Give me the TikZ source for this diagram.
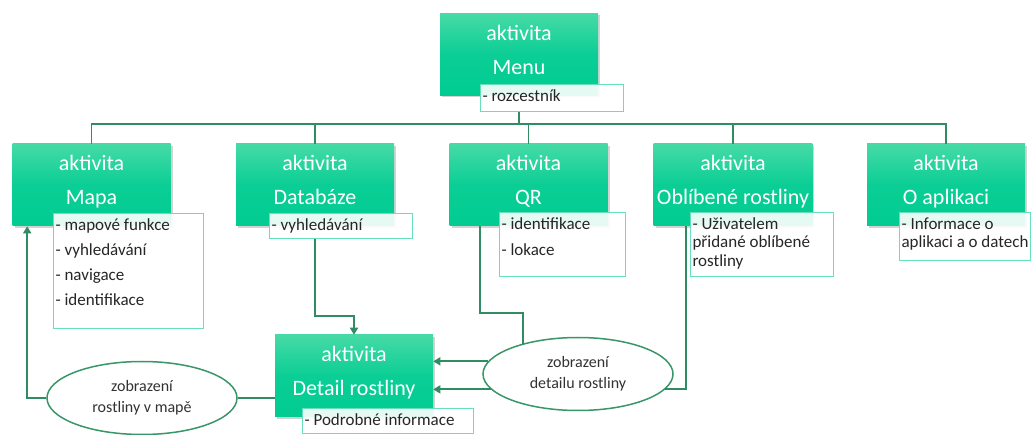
\documentclass[tikz,border=0pt]{standalone}
\usepackage{fontspec}
\setmainfont{Carlito}
\usetikzlibrary{positioning,shapes.geometric,shadows,arrows.meta}
\definecolor{boxtop}{RGB}{70,218,166}
\definecolor{boxbot}{RGB}{0,204,146}
\definecolor{notedraw}{RGB}{102,224,186}
\definecolor{linkcol}{RGB}{48,140,98}
\definecolor{ellcol}{RGB}{56,150,104}
\definecolor{txtgray}{RGB}{50,50,50}
\begin{document}
\begin{tikzpicture}[x=1pt,y=-1pt,semithick]
\tikzstyle{activity}=[rectangle,top color=boxtop,bottom color=boxbot,middle color=boxbot!85!boxtop,
  minimum width=158pt,minimum height=82pt,align=center,text=white,text depth=10pt,
  font=\fontsize{22}{34}\selectfont,drop shadow={shadow xshift=2pt,shadow yshift=-2pt,opacity=0.35}]
\tikzstyle{note}=[rectangle,draw=notedraw,line width=1pt,fill=white,fill opacity=0.9,text opacity=1,
  anchor=north west,inner xsep=2pt,inner ysep=5pt,text=black!85,font=\fontsize{17}{18.5}\selectfont]
\tikzstyle{action}=[ellipse,draw=ellcol,line width=1.5pt,fill=white,minimum width=190pt,minimum height=73pt,
  align=center,text=txtgray,font=\fontsize{16}{21}\selectfont]
\tikzstyle{link}=[draw=linkcol,line width=1.8pt]
\tikzstyle{arrow}=[link,-{Triangle[width=8pt,length=7pt]}]
%
\useasboundingbox (0,0) rectangle (1031,435);
%
\node[activity] (menu) at (519,54.5) {aktivita\\Menu};
\node[activity] (mapa) at (91.5,185) {aktivita\\Mapa};
\node[activity] (databaze) at (315,185) {aktivita\\Databáze};
\node[activity] (qr) at (528.5,185) {aktivita\\QR};
\node[activity] (oblibene) at (733,185) {aktivita\\Oblíbené rostliny};
\node[activity] (aplikace) at (946,185) {aktivita\\O aplikaci};
\node[activity] (detail) at (354,376) {aktivita\\Detail rostliny};
%
\node[note] (menunote) at (480,84) {\parbox[t][17pt][t]{139pt}{- rozcestník}};
\node[note] (mapanote) at (53,213) {\parbox[t][105pt][t]{146pt}{- mapové funkce\\[6.5pt]- vyhledávání\\[6.5pt]- navigace\\[6.5pt]- identifikace}};
\node[note] (dbnote) at (269,213) {\parbox[t][15pt][t]{139pt}{- vyhledávání}};
\node[note] (qrnote) at (499,212) {\parbox[t][54pt][t]{122pt}{- identifikace\\[7.5pt]- lokace}};
\node[note] (oblnote) at (690,212) {\parbox[t][54pt][t]{139pt}{- Uživatelem\\přidané oblíbené\\rostliny}};
\node[note] (aplnote) at (899,212) {\parbox[t][38pt][t]{127pt}{- Informace o\\aplikaci a o datech}};
\node[note] (detailnote) at (302,408) {\parbox[t][15pt][t]{167pt}{- Podrobné informace}};
%
\node[action] (zmapa) at (142,398) {zobrazení\\rostliny v mapě};
\node[action] (zdetail) at (578,374) {zobrazení\\detailu rostliny};
%
\coordinate (bus) at (519,124);
\path[link] (menu.south |- menunote.south) -- (bus);
\path[link] (mapa.north) -- (mapa.north |- bus) -- (aplikace.north |- bus) -- (aplikace.north);
\path[link] (databaze.north) -- (databaze.north |- bus);
\path[link] (qr.north) -- (qr.north |- bus);
\path[link] (oblibene.north) -- (oblibene.north |- bus);
%
\path[arrow] (databaze.south |- dbnote.south) -- ++(0,77) -| (detail.north);
\path[link] ([xshift=31pt]qr.south west) -- ++(0,87) -| (zdetail.151);
\path[link] ([xshift=33pt]oblibene.south west) |- (zdetail.-10);
\path[arrow] (zdetail.172) -- (zdetail.172 -| detail.east);
\path[arrow] (zdetail.190) -- (zdetail.190 -| detail.east);
\path[link] (zmapa.east) -- (zmapa.east -| detail.west);
\path[arrow] (zmapa.west) -| ([xshift=15pt]mapa.south west);
\end{tikzpicture}
\end{document}
